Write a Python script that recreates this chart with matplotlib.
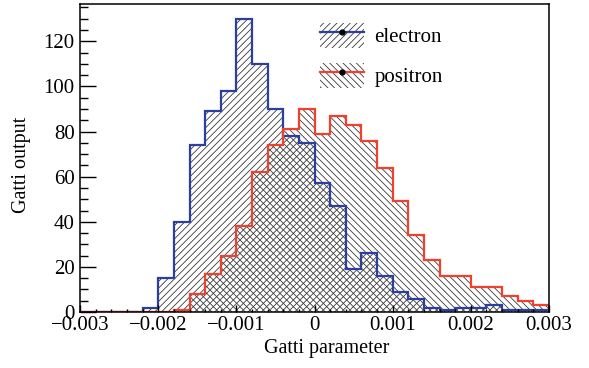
import matplotlib
matplotlib.use("Agg")
import matplotlib.pyplot as plt
import numpy as np
from matplotlib.patches import Patch
from matplotlib.lines import Line2D
from matplotlib.ticker import MultipleLocator, FuncFormatter

plt.rcParams["font.family"] = ["Liberation Serif", "DejaVu Serif"]
plt.rcParams["hatch.linewidth"] = 0.6

# 30 bins from -0.003 to 0.003
BIN_EDGES = np.linspace(-0.003, 0.003, 31)

electron = [0, 0, 0, 0, 2, 15, 40, 74, 89, 98,
            130, 110, 90, 78, 75, 57, 47, 19, 26, 16,
            9, 6, 2, 1, 2, 2, 3, 1, 1, 1]
positron = [0, 0, 0, 0, 0, 0, 1, 8, 17, 25,
            38, 62, 74, 81, 90, 79, 87, 83, 76, 64,
            49, 34, 23, 16, 16, 11, 11, 7, 5, 3]

BLUE = "#2a3f9f"
RED = "#f2402c"
HATCH_COL = "#3a3a3a"

fig = plt.figure(figsize=(5.89, 3.68), dpi=100)
ax = fig.add_axes([0.136, 0.152, 0.796, 0.837])

ax.stairs(electron, BIN_EDGES, fill=True, hatch="/////", facecolor="none",
          edgecolor=HATCH_COL, linewidth=0)
ax.stairs(positron, BIN_EDGES, fill=True, hatch="\\\\\\\\\\", facecolor="none",
          edgecolor=HATCH_COL, linewidth=0)
ax.stairs(electron, BIN_EDGES, color=BLUE, linewidth=1.6)
ax.stairs(positron, BIN_EDGES, color=RED, linewidth=1.6)

ax.set_xlim(-0.003, 0.003)
ax.set_ylim(0, 136.5)

ax.xaxis.set_major_locator(MultipleLocator(0.001))
ax.xaxis.set_minor_locator(MultipleLocator(0.0002))
ax.yaxis.set_major_locator(MultipleLocator(20))
ax.yaxis.set_minor_locator(MultipleLocator(5))


def fmt_x(v, pos):
    if abs(v) < 1e-9:
        return "0"
    return f"{v:.3f}".replace("-", "\u2212")


ax.xaxis.set_major_formatter(FuncFormatter(fmt_x))

ax.tick_params(axis="both", which="both", direction="in", labelsize=15,
               top=False, right=False, width=1.0)
ax.tick_params(axis="x", which="major", length=5, pad=3)
ax.tick_params(axis="x", which="minor", length=2.5)
ax.tick_params(axis="y", which="major", length=11.5, pad=4)
ax.tick_params(axis="y", which="minor", length=5.8)
for sp in ax.spines.values():
    sp.set_linewidth(1.1)

ax.set_xlabel("Gatti parameter", fontsize=14.5, va="top")
ax.xaxis.set_label_coords(0.527, -0.088)
ax.set_ylabel("Gatti output", fontsize=14.5)
ax.yaxis.set_label_coords(-0.105, 0.477)

h_e = (Patch(facecolor="none", edgecolor=HATCH_COL, hatch="/////", linewidth=0),
       Line2D([], [], color=BLUE, lw=1.6, marker="o", markersize=3.5,
              markerfacecolor="black", markeredgecolor="black"))
h_p = (Patch(facecolor="none", edgecolor=HATCH_COL, hatch="\\\\\\\\\\", linewidth=0),
       Line2D([], [], color=RED, lw=1.6, marker="o", markersize=3.5,
              markerfacecolor="black", markeredgecolor="black"))
ax.legend([h_e, h_p], ["electron", "positron"], loc="upper left",
          bbox_to_anchor=(0.512, 0.94), frameon=False, fontsize=15,
          borderpad=0, borderaxespad=0,
          handlelength=2.1, handleheight=1.5, labelspacing=0.7,
          handletextpad=0.5)

fig.savefig("out.png", dpi=100)
